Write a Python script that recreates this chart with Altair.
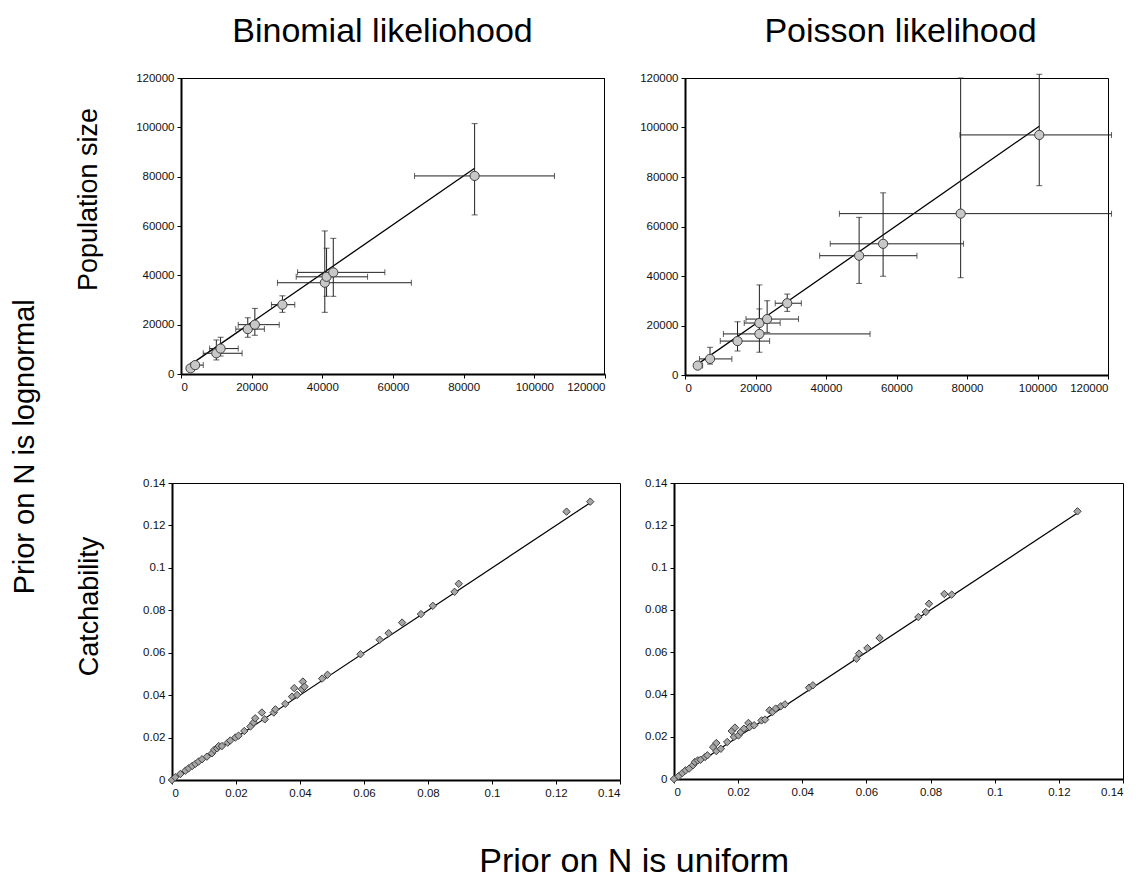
import altair as alt
import pandas as pd

FONT = "Liberation Sans"

# ---------------- Population size, Binomial likelihood ----------------
bn_x   = [2700, 4000, 10000, 11200, 18900, 20900, 28700, 40700, 41200, 43100, 83100]
bn_y   = [2300, 3600, 8400, 10300, 18200, 20000, 28100, 37000, 39400, 41200, 80300]
bn_xlo = [1800, 2800, 6300, 8100, 15500, 16200, 25600, 27300, 32600, 33000, 66100]
bn_xhi = [3800, 6300, 17300, 16200, 23600, 27800, 32200, 65200, 52800, 57700, 105700]
bn_ylo = [1700, 2800, 5700, 7300, 14900, 15700, 25000, 25000, 31500, 31500, 64500]
bn_yhi = [3000, 4600, 13800, 14900, 22800, 26600, 31700, 58000, 51000, 55000, 101500]
bn_line_x = [3200, 83100]
bn_line_y = [4300, 83400]

# ---------------- Population size, Poisson likelihood ----------------
ps_x   = [3600, 7100, 14900, 21100, 21100, 23300, 29000, 49400, 56200, 78200, 100500]
ps_y   = [3800, 6500, 13700, 16600, 21000, 22600, 29000, 48200, 53000, 65200, 97000]
ps_xlo = [3000, 4100, 10000, 10900, 16800, 17300, 25600, 38200, 41200, 43800, 78000]
ps_xhi = [5000, 13300, 24000, 52500, 27000, 32200, 33000, 65800, 79000, 121000, 121000]
ps_ylo = [3200, 4400, 9700, 9200, 15000, 17200, 25700, 37000, 39900, 39300, 76500]
ps_yhi = [4500, 11200, 21500, 26700, 36400, 30000, 32700, 63700, 73600, 120000, 121500]
ps_line_x = [3600, 100500]
ps_line_y = [4400, 100500]

# ---------------- Catchability, Binomial likelihood ----------------
bq_x = [0, 0.001, 0.0026, 0.0042, 0.0052, 0.0063, 0.0073, 0.0083, 0.0094, 0.0109,
        0.0125, 0.0132, 0.0141, 0.0146, 0.0156, 0.0174, 0.0182, 0.0198, 0.0208, 0.0226,
        0.0245, 0.0255, 0.026, 0.0281, 0.029, 0.0318, 0.0323, 0.0354, 0.0375, 0.0382,
        0.0391, 0.0406, 0.0409, 0.0414, 0.0469, 0.0486, 0.0589, 0.0649, 0.0677, 0.0719,
        0.0778, 0.0815, 0.0883, 0.0896, 0.1233, 0.1307]
bq_y = [0, 0.0013, 0.0028, 0.0044, 0.0055, 0.0066, 0.0076, 0.0087, 0.0098, 0.011,
        0.0126, 0.0142, 0.0149, 0.016, 0.016, 0.0176, 0.0186, 0.020, 0.0209, 0.0231,
        0.0252, 0.0271, 0.0291, 0.0318, 0.0286, 0.0318, 0.0333, 0.0359, 0.0393, 0.0433,
        0.0401, 0.0428, 0.0464, 0.044, 0.0478, 0.0496, 0.0593, 0.0661, 0.0692, 0.0742,
        0.0782, 0.0821, 0.0887, 0.0925, 0.1265, 0.1312]
bq_line_x = [0, 0.1305]
bq_line_y = [0, 0.1305]

# ---------------- Catchability, Poisson likelihood ----------------
pq_x = [0, 0.0014, 0.0026, 0.0036, 0.0047, 0.0059, 0.0065, 0.0074, 0.0083, 0.0097,
        0.0104, 0.0122, 0.0132, 0.0132, 0.0146, 0.0166, 0.018, 0.019, 0.0187, 0.0201,
        0.0208, 0.0218, 0.0232, 0.0236, 0.025, 0.0273, 0.0284, 0.0298, 0.0307, 0.0317,
        0.0333, 0.0346, 0.0421, 0.0433, 0.0569, 0.0577, 0.0603, 0.0641, 0.0762, 0.0785,
        0.0795, 0.0843, 0.0866, 0.1258]
pq_y = [0, 0.0013, 0.0028, 0.0041, 0.0049, 0.0065, 0.008, 0.0088, 0.0091, 0.0104,
        0.0112, 0.0151, 0.017, 0.0132, 0.0143, 0.0175, 0.0227, 0.0243, 0.0199, 0.0206,
        0.0222, 0.0238, 0.0265, 0.0246, 0.0254, 0.0277, 0.0281, 0.0325, 0.0317, 0.0333,
        0.0344, 0.0353, 0.0432, 0.0443, 0.0569, 0.0593, 0.0619, 0.0667, 0.0766, 0.079,
        0.0829, 0.0875, 0.0872, 0.1266]
pq_line_x = [0, 0.1258]
pq_line_y = [0, 0.1258]

col_titles = ["Binomial likeliohood", "Poisson likelihood"]
row_titles = ["Population size", "Catchability"]
left_title = "Prior on N is lognormal"
bottom_title = "Prior on N is uniform"

pop_ticks = [0, 20000, 40000, 60000, 80000, 100000, 120000]
q_ticks = [0, 0.02, 0.04, 0.06, 0.08, 0.1, 0.12, 0.14]

HBIG = 34   # horizontal big labels
VROW = 27   # rotated row labels
VBIG = 29   # rotated outer label
LBL = 11.5


def make_axis(ticks, fmt, title=None, ext=None, title_y=None, offset=None):
    kw = dict(values=ticks, format=fmt, grid=False, domainColor="black", domainWidth=2,
              tickColor="black", tickSize=4, tickWidth=1, labelFont=FONT, labelFontSize=LBL,
              labelColor="#111111", labelPadding=3)
    if title is not None:
        kw.update(title=title, titleFont=FONT, titleFontSize=VROW, titleFontWeight="normal",
                  titleColor="black", titlePadding=29)
    if ext is not None:
        kw.update(minExtent=ext, maxExtent=ext)
    if title_y is not None:
        kw.update(titleY=title_y)
    if offset is not None:
        kw.update(offset=offset)
    return alt.Axis(**kw)


def pop_panel(x, y, xlo, xhi, ylo, yhi, lx, ly, title, ytitle=None, ext=None,
              w=424, h=296, shift=0, tdx=0):
    df = pd.DataFrame(dict(x=x, y=y, xlo=xlo, xhi=xhi, ylo=ylo, yhi=yhi))
    ldf = pd.DataFrame(dict(x=lx, y=ly))
    if shift:
        xs = alt.Scale(domain=[0, 120000], nice=False, zero=False, range=[shift, w + shift])
    else:
        xs = alt.Scale(domain=[0, 120000], nice=False, zero=False)
    ys = alt.Scale(domain=[0, 120000], nice=False, zero=False)
    xax = make_axis(pop_ticks, "d")
    yax = make_axis(pop_ticks, "d", ytitle, ext, 121, offset=(-shift if shift else None))

    def X(f):
        return alt.X(f, type="quantitative", scale=xs, axis=xax, title=None)

    def Y(f):
        if ytitle is None:
            return alt.Y(f, type="quantitative", scale=ys, axis=yax, title=None)
        return alt.Y(f, type="quantitative", scale=ys, axis=yax, title=ytitle)

    base = alt.Chart(df)
    ec = "#202020"
    hbar = base.mark_rule(color=ec, strokeWidth=1).encode(x=X("xlo"), x2="xhi", y=Y("y"))
    hc1 = base.mark_tick(orient="vertical", size=6, thickness=1, color=ec).encode(x=X("xlo"), y=Y("y"))
    hc2 = base.mark_tick(orient="vertical", size=6, thickness=1, color=ec).encode(x=X("xhi"), y=Y("y"))
    vbar = base.mark_rule(color=ec, strokeWidth=1).encode(x=X("x"), y=Y("ylo"), y2="yhi")
    vc1 = base.mark_tick(orient="horizontal", size=6, thickness=1, color=ec).encode(x=X("x"), y=Y("ylo"))
    vc2 = base.mark_tick(orient="horizontal", size=6, thickness=1, color=ec).encode(x=X("x"), y=Y("yhi"))
    line = alt.Chart(ldf).mark_line(color="black", strokeWidth=1.3).encode(x=X("x"), y=Y("y"))
    pts = base.mark_point(shape="circle", filled=True, size=85, fill="#c8c8c8",
                          stroke="#404040", strokeWidth=1, opacity=1).encode(x=X("x"), y=Y("y"))
    layers = [line, hbar, hc1, hc2, vbar, vc1, vc2, pts]
    props = dict(width=w + shift, height=h,
                 title=alt.TitleParams(title, font=FONT, fontSize=HBIG, fontWeight="normal",
                                       color="black", anchor="middle", offset=23, dx=tdx))
    if shift:
        one = alt.Chart(pd.DataFrame({"k": [0]}))
        top_b = one.mark_rule(color="black", strokeWidth=1).encode(
            x=alt.value(shift), x2=alt.value(w + shift), y=alt.value(0.5))
        right_b = one.mark_rule(color="black", strokeWidth=1).encode(
            x=alt.value(w + shift - 0.5), y=alt.value(0), y2=alt.value(h))
        layers = [top_b, right_b] + layers
        props["view"] = alt.ViewBackground(stroke=None)
    return alt.layer(*layers).properties(**props)


def q_panel(x, y, lx, ly, ytitle=None, ext=None, w=448, h=297):
    df = pd.DataFrame(dict(x=x, y=y))
    ldf = pd.DataFrame(dict(x=lx, y=ly))
    xs = alt.Scale(domain=[0, 0.14], nice=False, zero=False)
    ys = alt.Scale(domain=[0, 0.14], nice=False, zero=False)
    xax = make_axis(q_ticks, "~g")
    yax = make_axis(q_ticks, "~g", ytitle, ext, 123)

    def X(f):
        return alt.X(f, type="quantitative", scale=xs, axis=xax, title=None)

    def Y(f):
        if ytitle is None:
            return alt.Y(f, type="quantitative", scale=ys, axis=yax, title=None)
        return alt.Y(f, type="quantitative", scale=ys, axis=yax, title=ytitle)

    line = alt.Chart(ldf).mark_line(color="black", strokeWidth=1.2).encode(x=X("x"), y=Y("y"))
    pts = alt.Chart(df).mark_point(shape="diamond", filled=True, size=55, fill="#a6a6a6",
                                   stroke="#404040", strokeWidth=1, opacity=1).encode(x=X("x"), y=Y("y"))
    return alt.layer(line, pts).properties(width=w, height=h)


tl = pop_panel(bn_x, bn_y, bn_xlo, bn_xhi, bn_ylo, bn_yhi, bn_line_x, bn_line_y,
               col_titles[0], row_titles[0], ext=50, shift=9, tdx=-6)
tr = pop_panel(ps_x, ps_y, ps_xlo, ps_xhi, ps_ylo, ps_yhi, ps_line_x, ps_line_y,
               col_titles[1], w=423, h=297, tdx=4)
bl = q_panel(bq_x, bq_y, bq_line_x, bq_line_y, row_titles[1], ext=40)
br = q_panel(pq_x, pq_y, pq_line_x, pq_line_y, w=449, h=296)

row1 = alt.hconcat(tl, tr, spacing=33)
row2 = alt.hconcat(bl, br, spacing=23,
                   title=alt.TitleParams(bottom_title, orient="bottom", anchor="middle",
                                         font=FONT, fontSize=HBIG, fontWeight="normal",
                                         color="black", offset=46, dx=35))

chart = alt.concat(row1, row2, columns=1, spacing=82, align="none",
                   title=alt.TitleParams(left_title, orient="left", anchor="middle",
                                         font=FONT, fontSize=VBIG, fontWeight="normal",
                                         color="black", offset=34)
                   ).properties(
    padding={"left": 10, "top": 14, "right": 5, "bottom": 5}
).configure_view(stroke="black", strokeWidth=1)

chart.save("out.html", embed_options={"renderer": "svg", "actions": False})
